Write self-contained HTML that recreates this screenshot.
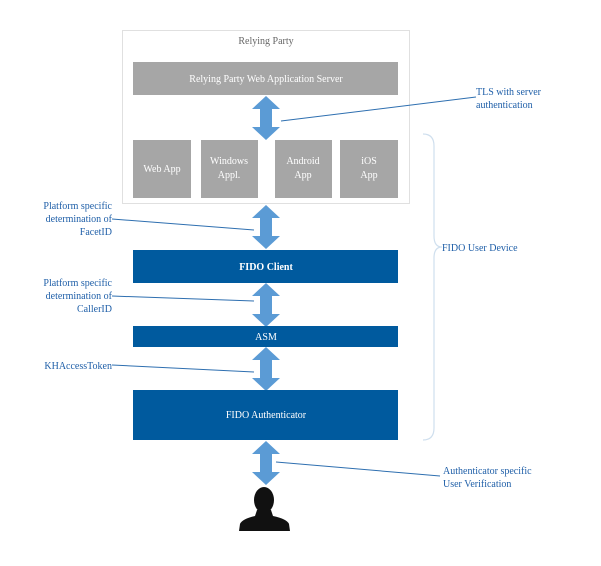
<!DOCTYPE html><html><head><style>
body{margin:0;width:601px;height:561px;background:#fff;overflow:hidden}
</style></head><body>
<svg width="601" height="561" viewBox="0 0 601 561" xmlns="http://www.w3.org/2000/svg" font-family="Liberation Serif, serif" font-size="10">
<defs><g id="ar"><polygon points="0,0 14,13 6,13 6,31 14,31 0,44 -14,31 -6,31 -6,13 -14,13" fill="#5b9bd5"/></g></defs>
<rect x="122.5" y="30.5" width="287" height="173" fill="#fff" stroke="#e0e0e0"/>
<text x="266" y="44" text-anchor="middle" fill="#666">Relying Party</text>
<rect x="133" y="62" width="265" height="33" fill="#a6a6a6"/>
<text x="266" y="82" text-anchor="middle" fill="#fff">Relying Party Web Application Server</text>
<rect x="133" y="140" width="58" height="58" fill="#a6a6a6"/>
<rect x="201" y="140" width="57" height="58" fill="#a6a6a6"/>
<rect x="275" y="140" width="57" height="58" fill="#a6a6a6"/>
<rect x="340" y="140" width="58" height="58" fill="#a6a6a6"/>
<g fill="#fff" text-anchor="middle">
<text x="162" y="172">Web App</text>
<text x="229" y="164">Windows</text><text x="229" y="178">Appl.</text>
<text x="303" y="164">Android</text><text x="303" y="178">App</text>
<text x="369" y="164">iOS</text><text x="369" y="178">App</text>
</g>
<use href="#ar" x="266" y="96"/>
<use href="#ar" x="266" y="205"/>
<use href="#ar" x="266" y="283"/>
<use href="#ar" x="266" y="347"/>
<use href="#ar" x="266" y="441"/>
<rect x="133" y="250" width="265" height="33" fill="#005a9e"/>
<text x="266" y="270" text-anchor="middle" fill="#fff" font-weight="bold">FIDO Client</text>
<rect x="133" y="326" width="265" height="21" fill="#005a9e"/>
<text x="266" y="340" text-anchor="middle" fill="#fff">ASM</text>
<rect x="133" y="390" width="265" height="50" fill="#005a9e"/>
<text x="266" y="418" text-anchor="middle" fill="#fff">FIDO Authenticator</text>
<path d="M423,134 Q434,134 434,146 L434,236 Q434,247 442,247 Q434,247 434,258 L434,428 Q434,440 423,440" fill="none" stroke="#cfdfee" stroke-width="1.2"/>
<g fill="#1f5fa8">
<text x="442" y="251">FIDO User Device</text>
<text x="476" y="95">TLS with server</text><text x="476" y="108">authentication</text>
<text x="112" y="209" text-anchor="end">Platform specific</text>
<text x="112" y="222" text-anchor="end">determination of</text>
<text x="112" y="235" text-anchor="end">FacetID</text>
<text x="112" y="286" text-anchor="end">Platform specific</text>
<text x="112" y="299" text-anchor="end">determination of</text>
<text x="112" y="312" text-anchor="end">CallerID</text>
<text x="112" y="369" text-anchor="end">KHAccessToken</text>
<text x="443" y="474">Authenticator specific</text>
<text x="443" y="487">User Verification</text>
</g>
<g stroke="#2e6fb0" stroke-width="1" fill="none">
<line x1="476" y1="97" x2="281" y2="121"/>
<line x1="112" y1="219" x2="254" y2="230"/>
<line x1="112" y1="296" x2="254" y2="301"/>
<line x1="112" y1="365" x2="254" y2="372"/>
<line x1="276" y1="462" x2="440" y2="476"/>
</g>
<g fill="#111">
<ellipse cx="264" cy="500" rx="10" ry="13"/>
<path d="M257,510 L271,510 L273,516 Q287,519 289,524 L290,531 L239,531 L240,524 Q242,519 255,516 Z"/>
</g>
</svg>
</body></html>
